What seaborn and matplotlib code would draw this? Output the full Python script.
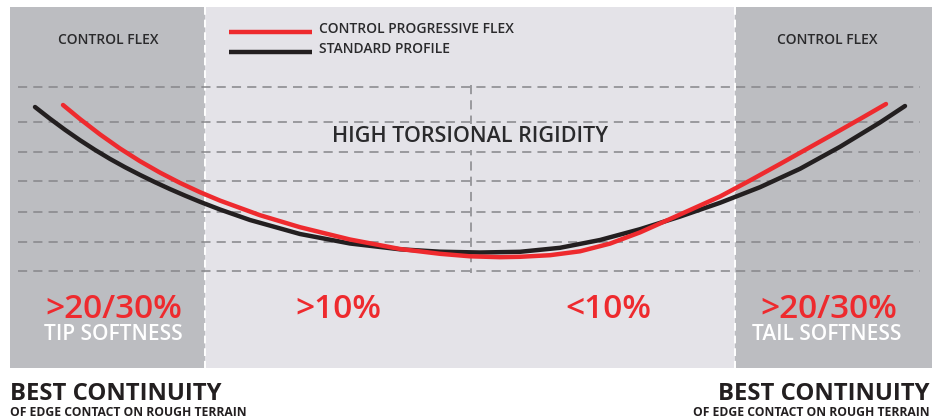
import matplotlib

matplotlib.use("Agg")
import matplotlib.pyplot as plt
import pandas as pd
import seaborn as sns

# curve samples (x along the ski, y downward = softer)
standard_x = [35, 50, 65, 80, 95, 110, 125, 140, 155, 170, 185, 200, 220, 250, 300, 350, 400, 440,
              480, 520, 560, 600, 640, 680, 720, 760, 800, 840, 880, 905]
standard_y = [107, 118.7, 129.8, 140.2, 149.9, 158.9, 167.2, 174.9, 182.2, 189.1, 195.6, 201.8, 209.5,
              220, 234, 243.5, 249.3, 251.7, 252.5, 251.8, 247.8, 240, 229.2, 216.6, 202.8, 187.2,
              168.8, 146.8, 122.5, 106]
progressive_x = [63, 80, 100, 120, 140, 160, 180, 200, 220, 260, 300, 350, 400, 440, 470, 500, 520,
                 550, 580, 610, 640, 670, 700, 720, 750, 780, 805, 830, 860, 886]
progressive_y = [105, 119, 134.4, 148.5, 161.2, 172.6, 182.9, 192.2, 200.6, 215.2, 227.2, 239.5, 249,
                 253.8, 256.3, 257.2, 256.8, 255.2, 251.3, 243.6, 232.4, 219, 205.5, 196.5, 180.5,
                 164, 150, 136, 119, 104]

series_labels = ["CONTROL PROGRESSIVE FLEX", "STANDARD PROFILE"]
band_titles = ["CONTROL FLEX", "CONTROL FLEX"]
zone_values = [">20/30%", ">10%", "<10%", ">20/30%"]
zone_notes = ["TIP SOFTNESS", "TAIL SOFTNESS"]
center_label = "HIGH TORSIONAL RIGIDITY"
footer_title = "BEST CONTINUITY"
footer_note = "OF EDGE CONTACT ON ROUGH TERRAIN"
grid_levels = [87, 122, 152, 181, 212, 242, 271]

RED = "#ee2a2e"
BLACK = "#231f20"
DARK_TEXT = "#2a2a2c"
LIGHT_BG = "#e4e3e8"
BAND_BG = "#bcbdc1"
GRID = "#86868a"

sns.set_theme(style="white")
plt.rcParams["font.family"] = ["Open Sans", "DejaVu Sans"]

fig = plt.figure(figsize=(9.32, 4.18), dpi=100)
ax = fig.add_axes([0, 0, 1, 1])

# panel backgrounds
ax.fill_between([10, 932], 7, 368, color=LIGHT_BG, lw=0, zorder=0)
ax.fill_between([10, 205], 7, 368, color=BAND_BG, lw=0, zorder=0)
ax.fill_between([735, 932], 7, 368, color=BAND_BG, lw=0, zorder=0)
for xb in (205, 735):
    ax.plot([xb, xb], [7, 368], color="white", lw=1.4, ls=(0, (4, 2.5)), zorder=1)

for level in grid_levels:
    ax.plot([18, 920], [level, level], color=GRID, lw=1.1, ls=(0, (6, 4)), zorder=2)
ax.plot([471, 471], [85, 273], color=GRID, lw=1.1, ls=(0, (6, 4)), zorder=2)

curves = pd.concat(
    [
        pd.DataFrame({"pos": progressive_x, "flex": progressive_y, "profile": series_labels[0]}),
        pd.DataFrame({"pos": standard_x, "flex": standard_y, "profile": series_labels[1]}),
    ]
)
for profile, color in zip(series_labels[::-1], [BLACK, RED]):
    part = curves[curves["profile"] == profile]
    sns.lineplot(data=part, x="pos", y="flex", color=color, lw=3.2, sort=False,
                 estimator=None, ax=ax, zorder=4)
for ln in ax.lines[-2:]:
    ln.set_solid_joinstyle("round")
ax.set_xlim(0, 932)
ax.set_ylim(418, 0)
ax.axis("off")

# legend drawn by hand
ax.plot([229, 312], [32, 32], color=RED, lw=3.2, solid_capstyle="butt")
ax.plot([229, 312], [52, 52], color=BLACK, lw=3.2, solid_capstyle="butt")
label_kw = dict(fontsize=10, fontweight="semibold", color=DARK_TEXT, va="center")
ax.text(319, 29, series_labels[0], **label_kw)
ax.text(319, 49, series_labels[1], **label_kw)

ax.text(108, 40, band_titles[0], ha="center", **label_kw)
ax.text(827, 40, band_titles[1], ha="center", **label_kw)

ax.text(470, 137, center_label, fontsize=15.5, fontweight="semibold", color=DARK_TEXT,
        ha="center", va="center", zorder=3,
        bbox=dict(facecolor=LIGHT_BG, edgecolor="none", pad=1.5))

for xc, value in zip([114, 338, 608, 829], zone_values):
    ax.text(xc, 309, value, fontsize=24, fontweight="semibold", color=RED, ha="center", va="center")
ax.text(113, 335, zone_notes[0], fontsize=15, fontweight="semibold", color="white", ha="center", va="center")
ax.text(827, 335, zone_notes[1], fontsize=15, fontweight="semibold", color="white", ha="center", va="center")

ax.text(10, 394, footer_title, fontsize=17.2, fontweight="bold", color=BLACK, ha="left", va="center")
ax.text(10, 412, footer_note, fontsize=8.7, fontweight="bold", color=BLACK, ha="left", va="center")
ax.text(930, 394, footer_title, fontsize=17.2, fontweight="bold", color=BLACK, ha="right", va="center")
ax.text(930, 412, footer_note, fontsize=8.7, fontweight="bold", color=BLACK, ha="right", va="center")

fig.savefig("out.png", dpi=100)
